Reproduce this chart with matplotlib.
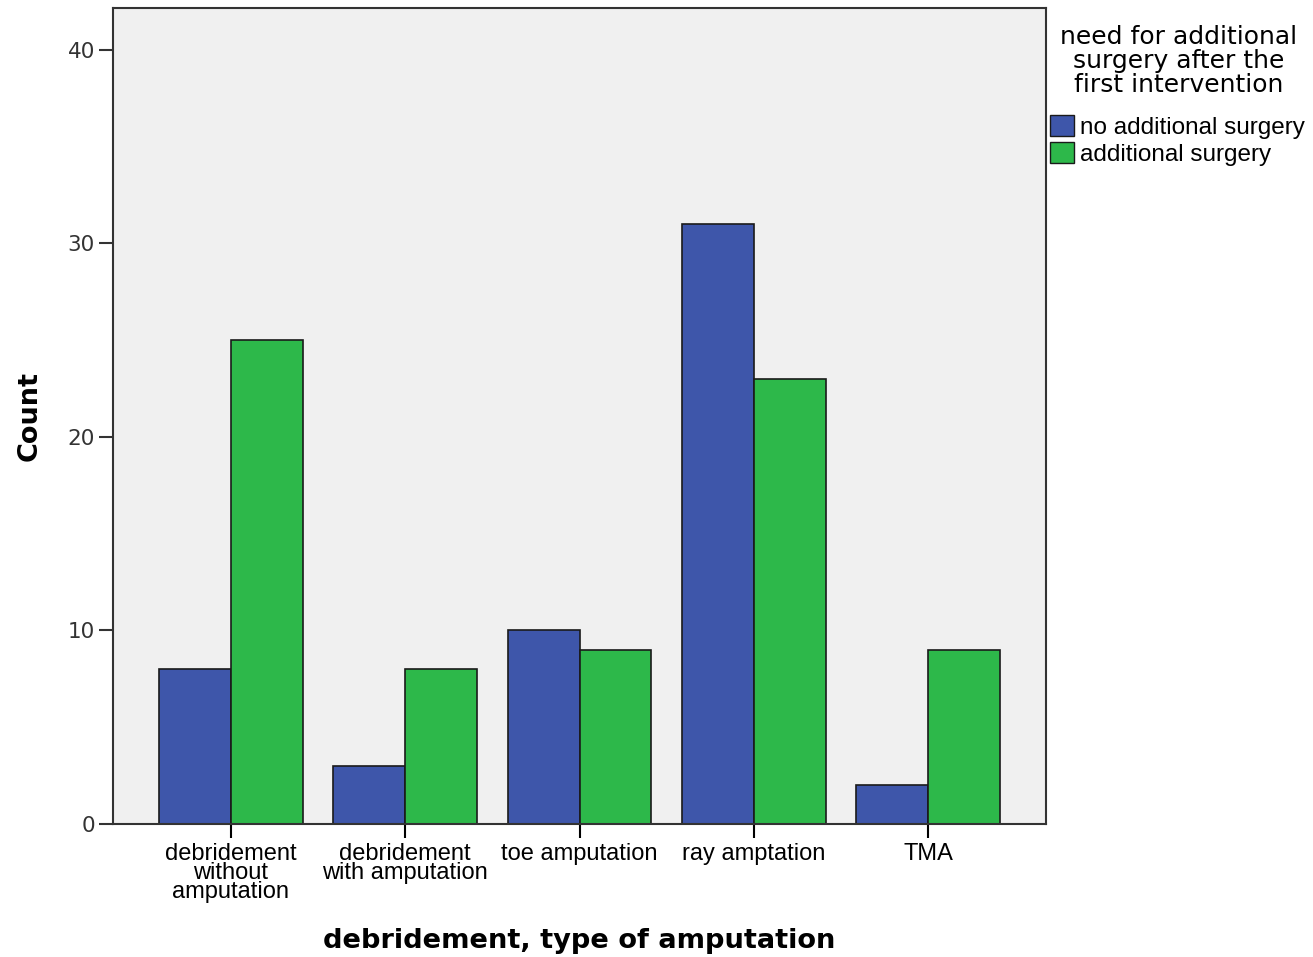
import matplotlib
matplotlib.use("Agg")
import matplotlib.pyplot as plt
import numpy as np
from matplotlib.patches import Patch

categories = ["debridement\nwithout\namputation", "debridement\nwith amputation",
              "toe amputation", "ray amptation", "TMA"]
no_additional = [8, 3, 10, 31, 2]
additional = [25, 8, 9, 23, 9]
series_names = ["no additional surgery", "additional surgery"]
yticks = [0, 10, 20, 30, 40]

blue = "#3e56aa"
green = "#2db84a"

plt.rcParams['font.family'] = ['Liberation Sans', 'DejaVu Sans']

fig = plt.figure(figsize=(13.13, 9.57), dpi=100)
ax = fig.add_axes([113/1313, 1-824/957, (1046-113)/1313, (824-8)/957])
ax.set_facecolor("#f0f0f0")

x = np.arange(len(categories))
w = 0.413
ax.bar(x - w/2, no_additional, width=w, color=blue, edgecolor="#1a1a1a", linewidth=1.2, zorder=2)
ax.bar(x + w/2, additional, width=w, color=green, edgecolor="#1a1a1a", linewidth=1.2, zorder=2)

ax.set_xlim(-0.677, 4.677)
ax.set_ylim(0, 42.17)
ax.set_yticks(yticks)
ax.set_xticks(x)
ax.set_xticklabels(categories, fontsize=17, linespacing=0.8)
ax.set_yticklabels([str(v) for v in yticks], fontsize=15.5, family='DejaVu Sans')
ax.tick_params(axis='y', length=10, width=1.5, pad=3, colors="#333333")
ax.tick_params(axis='x', length=10, width=1.5, pad=4)
for s in ax.spines.values():
    s.set_linewidth(1.5)
    s.set_color("#333333")

ax.set_ylabel("Count", fontsize=19.5, fontweight='bold', labelpad=18, family='DejaVu Sans')
ax.set_xlabel("debridement, type of amputation", fontsize=19.6, fontweight='bold', labelpad=18,
              family='DejaVu Sans')

fig.text(1179/1313, 1-61/957, "need for additional\nsurgery after the\nfirst intervention",
         ha='center', va='center', fontsize=18, linespacing=1.0, family='DejaVu Sans')
handles = [Patch(facecolor=blue, edgecolor="#1a1a1a"), Patch(facecolor=green, edgecolor="#1a1a1a")]
fig.legend(handles, series_names, loc='upper left', bbox_to_anchor=(1048/1313, 1-113/957),
           frameon=False, fontsize=17.5, handlelength=0.95, handleheight=0.95, handletextpad=0.25,
           labelspacing=0.1, borderaxespad=0, borderpad=0.1)

fig.savefig("out.png", dpi=100)
